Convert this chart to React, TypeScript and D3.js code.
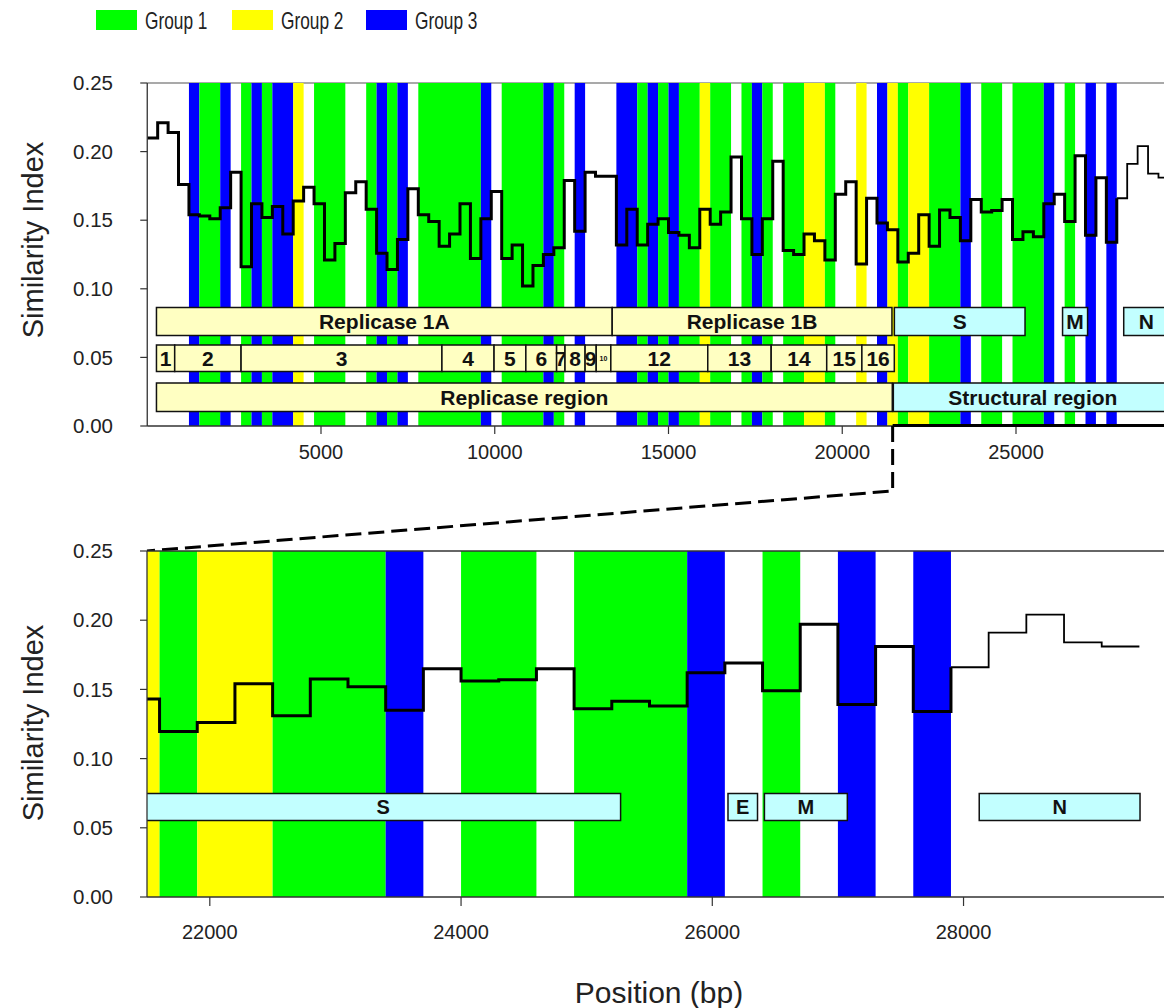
import React from 'react';
import * as d3 from 'd3';

// Legend groups and their colours
const groupNames = ['Group 1', 'Group 2', 'Group 3'];
const groupColors = ['#00FF00', '#FFFF00', '#0000FF'];

// Similarity index per 300 bp window, starting at position 0
const windowSize = 300;
const similarity = [
  0.210, 0.221, 0.214, 0.176, 0.154, 0.153, 0.151, 0.159, 0.185, 0.116,
  0.162, 0.152, 0.160, 0.140, 0.164, 0.174, 0.162, 0.121, 0.133, 0.170,
  0.178, 0.158, 0.126, 0.114, 0.136, 0.173, 0.154, 0.149, 0.131, 0.140,
  0.162, 0.122, 0.151, 0.171, 0.122, 0.132, 0.102, 0.117, 0.125, 0.130,
  0.179, 0.142, 0.185, 0.182, 0.182, 0.132, 0.158, 0.132, 0.147, 0.151,
  0.141, 0.139, 0.130, 0.158, 0.147, 0.156, 0.196, 0.151, 0.125, 0.151,
  0.193, 0.128, 0.125, 0.140, 0.135, 0.121, 0.169, 0.178, 0.118, 0.166,
  0.148, 0.143, 0.1195, 0.126, 0.154, 0.131, 0.1575, 0.152, 0.135, 0.165,
  0.156, 0.157, 0.165, 0.136, 0.1415, 0.138, 0.162, 0.169, 0.149, 0.197,
  0.139, 0.181, 0.134, 0.166, 0.191, 0.204, 0.184, 0.181,
];
// windows from this index on are drawn with a thinner line
const thinFrom = 93;

// Coloured bands: [start bp, end bp, group index]
const groupBands: [number, number, number][] = [
  [1200, 1500, 2], [1500, 2100, 0], [2100, 2400, 2], [2700, 3000, 0], [3000, 3300, 2],
  [3300, 3600, 0], [3600, 4200, 2], [4200, 4500, 1], [4800, 5700, 0], [6300, 6600, 0],
  [6600, 6900, 2], [6900, 7200, 0], [7200, 7500, 2], [7800, 9600, 0], [9600, 9900, 2],
  [10200, 11400, 0], [11400, 11700, 2], [11700, 12000, 0], [12300, 12600, 2], [13500, 14100, 2],
  [14100, 14400, 0], [14400, 14700, 2], [14700, 15000, 0], [15000, 15300, 2], [15300, 15900, 0],
  [15900, 16200, 1], [16200, 16800, 0], [17100, 17400, 0], [17400, 17700, 2], [17700, 18000, 0],
  [18300, 18900, 0], [18900, 19500, 1], [19500, 19800, 0], [20400, 20700, 1], [21000, 21300, 2],
  [21300, 21600, 1], [21600, 21900, 0], [21900, 22500, 1], [22500, 23400, 0], [23400, 23700, 2],
  [24000, 24600, 0], [24900, 25800, 0], [25800, 26100, 2], [26400, 26700, 0], [27000, 27300, 2],
  [27600, 27900, 2],
];

// Genome annotation
const polyproteins: [number, number, string][] = [
  [265, 13380, 'Replicase 1A'], [13380, 21430, 'Replicase 1B'],
];
const topStructural: [number, number, string][] = [
  [21500, 25260, 'S'], [26340, 27060, 'M'], [28100, 29400, 'N'],
];
const nspBoundaries = [265, 790, 2700, 8480, 9980, 10895, 11780, 12022, 12600, 12920, 13340, 16130, 17955, 19553, 20565, 21498];
const nspLabels = ['1', '2', '3', '4', '5', '6', '7', '8', '9', '10', '12', '13', '14', '15', '16'];
const regions: [number, number, string, boolean][] = [
  [265, 21440, 'Replicase region', false], [21470, 29500, 'Structural region', true],
];
const zoomGenes: [number, number, string][] = [
  [21490, 25270, 'S'], [26125, 26360, 'E'], [26415, 27075, 'M'], [28125, 29405, 'N'],
];

const topTicks = [5000, 10000, 15000, 20000, 25000];
const bottomTicks = [22000, 24000, 26000, 28000];
const yTicks = [0, 0.05, 0.1, 0.15, 0.2, 0.25];

const zoomStart = 21500;
const zoomEnd = 30000;

const FONT = "'Liberation Sans', Arial, sans-serif";
const REP_FILL = '#FFFFC2';
const STR_FILL = '#C2FFFF';

const W = 1164;
const H = 1008;

const xTop = d3.scaleLinear().domain([0, 30000]).range([147.25, 147.25 + 30000 * 0.03475]);
const yTop = d3.scaleLinear().domain([0, 0.25]).range([426, 83]);
const xBot = d3.scaleLinear().domain([zoomStart, zoomEnd]).range([147, 147 + (zoomEnd - zoomStart) * 0.12562]);
const yBot = d3.scaleLinear().domain([0, 0.25]).range([897, 551]);

type Pt = [number, number];
const allPts: Pt[] = similarity.map((v, i) => [i * windowSize, v] as Pt);
const thickPts: Pt[] = [...allPts.slice(0, thinFrom), [thinFrom * windowSize, similarity[thinFrom]]];
const thinPts: Pt[] = [...allPts.slice(thinFrom), [similarity.length * windowSize, similarity[similarity.length - 1]]];

function stepPath(pts: Pt[], x: d3.ScaleLinear<number, number>, y: d3.ScaleLinear<number, number>) {
  return d3.line<Pt>().x(d => x(d[0])).y(d => y(d[1])).curve(d3.curveStepAfter)(pts) || '';
}

function Box({ x0, x1, y0, y1, fill, label, size = 21 }: { x0: number; x1: number; y0: number; y1: number; fill: string; label: string; size?: number }) {
  return (
    <g>
      <rect x={x0} y={y0} width={x1 - x0} height={y1 - y0} fill={fill} stroke="#111" strokeWidth={1.5} />
      <text x={(x0 + x1) / 2} y={(y0 + y1) / 2} dy="0.36em" textAnchor="middle" fontFamily={FONT} fontWeight="bold" fontSize={size} fill="#111">{label}</text>
    </g>
  );
}

function Bands({ x, y, lo, hi }: { x: d3.ScaleLinear<number, number>; y: d3.ScaleLinear<number, number>; lo: number; hi: number }) {
  return (
    <g>
      {groupBands.filter(b => b[1] > lo && b[0] < hi).map((b, i) => {
        const a = x(Math.max(b[0], lo));
        const e = x(Math.min(b[1], hi));
        return <rect key={i} x={a} y={y(0.25)} width={e - a} height={y(0) - y(0.25)} fill={groupColors[b[2]]} />;
      })}
    </g>
  );
}

function YAxis({ y, left }: { y: d3.ScaleLinear<number, number>; left: number }) {
  return (
    <g>
      {yTicks.map(t => (
        <g key={t}>
          <line x1={left - 7} x2={left} y1={y(t)} y2={y(t)} stroke="#333" strokeWidth={1.2} />
          <text x={113} y={y(t)} dy="0.35em" textAnchor="end" fontFamily={FONT} fontSize={20.5} fill="#222">{d3.format('.2f')(t)}</text>
        </g>
      ))}
    </g>
  );
}

export default function App() {
  const topL = xTop(0);
  const botL = xBot(zoomStart);
  const bracketX = xTop(21450);
  return (
    <svg width={W} height={H} style={{ position: 'absolute', left: 0, top: 0, background: '#fff' }}>
      <defs>
        <clipPath id="botClip"><rect x={botL} y={yBot(0.25) - 5} width={W - botL} height={yBot(0) - yBot(0.25) + 10} /></clipPath>
        <clipPath id="topClip"><rect x={topL} y={yTop(0.25) - 5} width={W - topL} height={yTop(0) - yTop(0.25) + 10} /></clipPath>
      </defs>

      {/* legend, with narrow lettering */}
      {groupNames.map((g, i) => {
        const lx = [96, 232, 366][i];
        return (
          <g key={g}>
            <rect x={lx} y={10} width={41} height={20} fill={groupColors[i]} />
            <text transform={`translate(${lx + 49},29) scale(0.72,1)`} fontFamily={FONT} fontSize={24} fill="#222">{g}</text>
          </g>
        );
      })}

      {/* whole genome panel */}
      <line x1={topL} x2={W} y1={yTop(0.25)} y2={yTop(0.25)} stroke="#555" strokeWidth={1.2} />
      <g clipPath="url(#topClip)">
        <Bands x={xTop} y={yTop} lo={0} hi={30000} />
        {polyproteins.map(p => <Box key={p[2]} x0={xTop(p[0])} x1={xTop(p[1])} y0={307.5} y1={335.5} fill={REP_FILL} label={p[2]} />)}
        {topStructural.map(p => <Box key={p[2]} x0={xTop(p[0])} x1={xTop(p[1])} y0={307.5} y1={335.5} fill={STR_FILL} label={p[2]} />)}
        {nspLabels.map((l, i) => (
          <Box key={l} x0={xTop(nspBoundaries[i])} x1={xTop(nspBoundaries[i + 1])} y0={345} y1={371.5} fill={REP_FILL} label={l} size={l === '10' ? 7 : 21} />
        ))}
        {regions.map(r => <Box key={r[2]} x0={xTop(r[0])} x1={xTop(r[1])} y0={383} y1={411.5} fill={r[3] ? STR_FILL : REP_FILL} label={r[2]} />)}
        <path d={stepPath(thickPts, xTop, yTop)} fill="none" stroke="#000" strokeWidth={3} />
        <path d={stepPath(thinPts, xTop, yTop)} fill="none" stroke="#000" strokeWidth={1.8} />
      </g>
      <line x1={topL} x2={topL} y1={yTop(0.25)} y2={yTop(0)} stroke="#333" strokeWidth={1.3} />
      <line x1={topL} x2={W} y1={yTop(0)} y2={yTop(0)} stroke="#333" strokeWidth={1.3} />
      <YAxis y={yTop} left={topL} />
      {topTicks.map(t => (
        <g key={t}>
          <line x1={xTop(t)} x2={xTop(t)} y1={yTop(0)} y2={yTop(0) + 8} stroke="#333" strokeWidth={1.2} />
          <text x={xTop(t)} y={452} dy="0.36em" textAnchor="middle" fontFamily={FONT} fontSize={20} fill="#222">{t}</text>
        </g>
      ))}
      <text transform={`translate(33,240) rotate(-90)`} dy="0.36em" textAnchor="middle" fontFamily={FONT} fontSize={29} fill="#222">Similarity Index</text>

      {/* zoom bracket */}
      <line x1={bracketX} x2={W} y1={yTop(0) - 0.5} y2={yTop(0) - 0.5} stroke="#000" strokeWidth={3} />
      <path d={`M${bracketX},${yTop(0)} V491 L${botL},${yBot(0.25)}`} fill="none" stroke="#000" strokeWidth={3} strokeDasharray="16 7" />

      {/* structural region panel */}
      <g clipPath="url(#botClip)">
        <Bands x={xBot} y={yBot} lo={zoomStart} hi={zoomEnd} />
        {zoomGenes.map(p => <Box key={p[2]} x0={xBot(p[0])} x1={xBot(p[1])} y0={793.5} y1={820.5} fill={STR_FILL} label={p[2]} size={20} />)}
        <path d={stepPath(thickPts, xBot, yBot)} fill="none" stroke="#000" strokeWidth={3} />
        <path d={stepPath(thinPts, xBot, yBot)} fill="none" stroke="#000" strokeWidth={1.8} />
      </g>
      <line x1={botL} x2={W} y1={yBot(0.25)} y2={yBot(0.25)} stroke="#333" strokeWidth={1.5} />
      <line x1={botL} x2={botL} y1={yBot(0.25)} y2={yBot(0)} stroke="#333" strokeWidth={1.3} />
      <line x1={botL} x2={W} y1={yBot(0)} y2={yBot(0)} stroke="#333" strokeWidth={1.3} />
      <YAxis y={yBot} left={botL} />
      {bottomTicks.map(t => (
        <g key={t}>
          <line x1={xBot(t)} x2={xBot(t)} y1={yBot(0)} y2={yBot(0) + 9} stroke="#333" strokeWidth={1.2} />
          <text x={xBot(t)} y={932} dy="0.36em" textAnchor="middle" fontFamily={FONT} fontSize={20} fill="#222">{t}</text>
        </g>
      ))}
      <text transform={`translate(33,723) rotate(-90)`} dy="0.36em" textAnchor="middle" fontFamily={FONT} fontSize={29} fill="#222">Similarity Index</text>
      <text x={659} y={992} dy="0.36em" textAnchor="middle" fontFamily={FONT} fontSize={30} fill="#222">Position (bp)</text>
    </svg>
  );
}
